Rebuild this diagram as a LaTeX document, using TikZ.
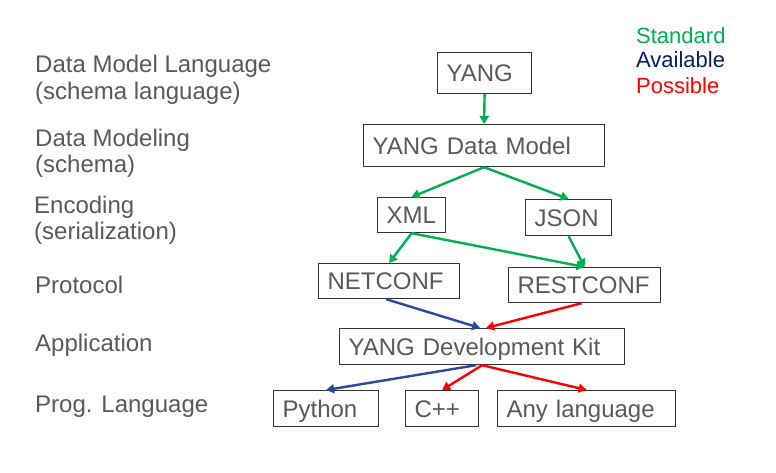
\documentclass[tikz,border=0pt]{standalone}
\usepackage{fontspec}
\setmainfont{Liberation Sans}
\usetikzlibrary{arrows.meta}
\definecolor{grn}{HTML}{00B050}
\definecolor{navy}{HTML}{002060}
\definecolor{blu}{HTML}{2A4A9E}
\definecolor{rd}{HTML}{FF0000}
\definecolor{txtc}{HTML}{595959}
\definecolor{boxc}{HTML}{333333}
\begin{document}
\begin{tikzpicture}[x=1pt,y=-1pt,
  box/.style={draw=boxc, line width=1.2pt, anchor=north west, inner xsep=9pt, inner ysep=0pt,
    align=left, text=txtc, font=\fontsize{24}{28}\selectfont, text height=17.2pt, text depth=0pt},
  lbl/.style={anchor=base west, inner sep=0pt, text=txtc, font=\fontsize{24}{28}\selectfont},
  leg/.style={anchor=base west, inner sep=0pt, font=\fontsize{22}{26}\selectfont},
  arr/.style={line width=2.4pt, -{Triangle[length=8pt,width=9pt]}}]
\useasboundingbox (0,0) rectangle (776,473);

% left labels
\node[lbl] (l1a) at (35,73) {Data Model Language};
\node[lbl] (l1b) at (35,100) {(schema language)};
\node[lbl] (l2a) at (35,147) {Data Modeling};
\node[lbl] (l2b) at (35,173) {(schema)};
\node[lbl] (l3a) at (34,214) {Encoding};
\node[lbl] (l3b) at (34,240) {(serialization)};
\node[lbl] (l4) at (35,293) {Protocol};
\node[lbl] (l5) at (35,351) {Application};
\node[lbl] (l6) at (35,412) {Prog. Language};

% legend
\node[leg, text=grn] (lg1) at (636,44) {Standard};
\node[leg, text=navy] (lg2) at (636,68) {Available};
\node[leg, text=rd] (lg3) at (636,94) {Possible};

% boxes
\node[box, text width=76pt, minimum height=41pt] (yang) at (437,52) {YANG};
\node[box, text width=223pt, minimum height=42pt] (ydm) at (363,124) {YANG Data Model};
\node[box, text width=50pt, minimum height=35pt] (xml) at (377,197) {XML};
\node[box, text width=68pt, minimum height=36pt] (json) at (525,199) {JSON};
\node[box, text width=123pt, minimum height=35pt] (netconf) at (318,263) {NETCONF};
\node[box, text width=134pt, minimum height=35pt] (restconf) at (508,267) {RESTCONF};
\node[box, text width=267pt, minimum height=36pt] (ydk) at (339,328) {YANG Development Kit};
\node[box, text width=87pt, minimum height=36pt] (python) at (273,390) {Python};
\node[box, text width=55pt, minimum height=36pt] (cpp) at (405,390) {C++};
\node[box, text width=160pt, minimum height=36pt] (any) at (497,390) {Any language};

% connectors
\draw[arr,grn] (yang.south) -- (ydm.north);
\draw[arr,grn] (ydm.south) -- (xml.north);
\draw[arr,grn] (ydm.south) -- (json.north);
\draw[arr,grn] (xml.south) -- (netconf.north);
\draw[arr,grn] (xml.south) -- (restconf.north);
\draw[arr,grn] (json.south) -- (restconf.north);
\draw[arr,blu] ([xshift=-3pt]netconf.south) -- ([xshift=-2pt]ydk.north);
\draw[arr,rd] ([xshift=-3pt]restconf.south) -- ([xshift=4pt]ydk.north);
\draw[arr,blu] ([xshift=-6pt]ydk.south) -- (python.north);
\draw[arr,rd] (ydk.south) -- (cpp.north);
\draw[arr,rd] (ydk.south) -- (any.north);
\end{tikzpicture}
\end{document}
